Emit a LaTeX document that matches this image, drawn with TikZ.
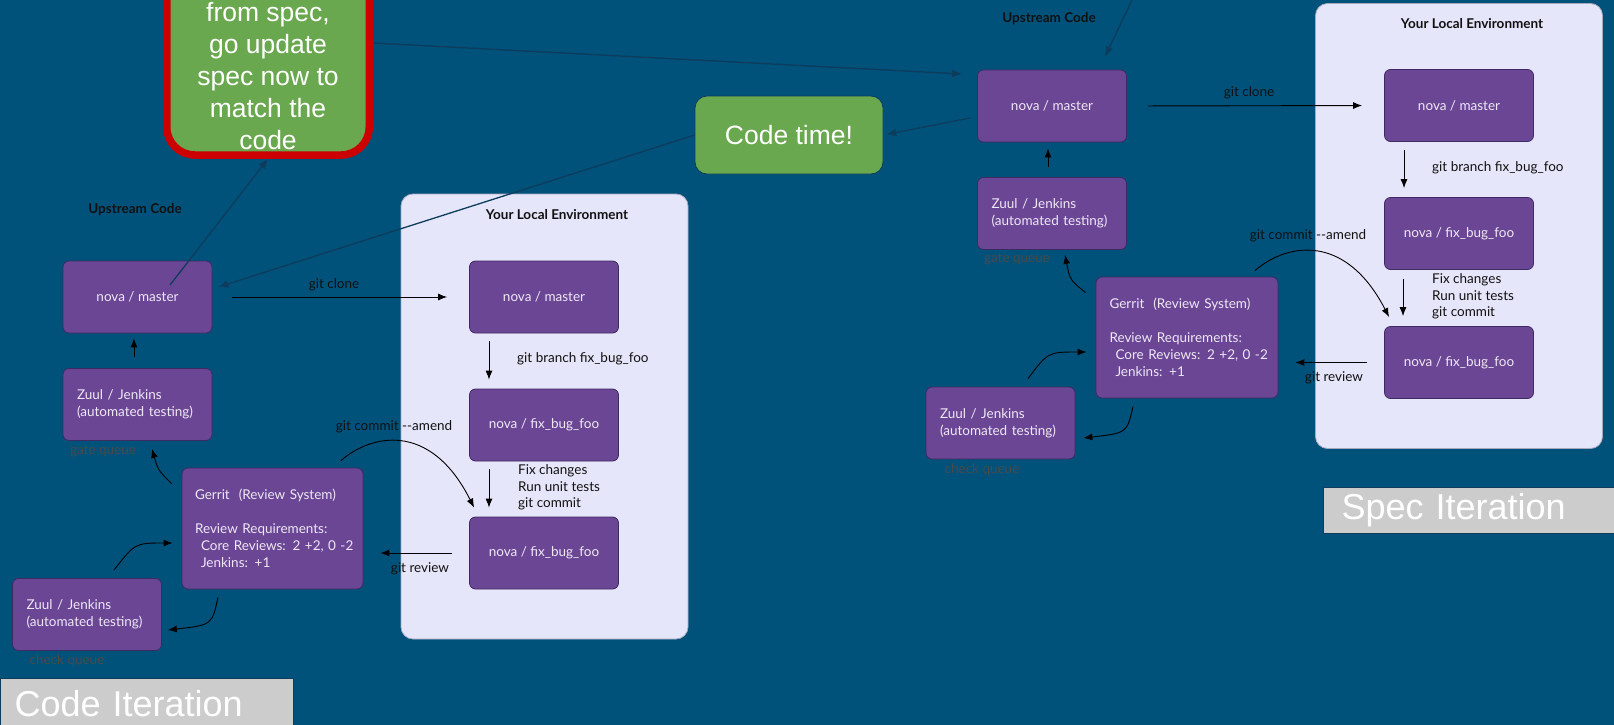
\documentclass[tikz,border=0pt]{standalone}
\usepackage{fontspec}
\setmainfont{Lato}
\newfontfamily\arialfont{Liberation Sans}
\usepackage{tikz}
\usetikzlibrary{arrows.meta}
\definecolor{bg}{HTML}{00527B}
\definecolor{plum}{HTML}{6B4694}
\definecolor{plumline}{HTML}{3E2A62}
\definecolor{plumtext}{HTML}{EEE8F6}
\definecolor{lav}{HTML}{E6E6FA}
\definecolor{lavline}{HTML}{A9A9BE}
\definecolor{navy}{HTML}{0D3C5C}
\definecolor{leaf}{HTML}{6AA84F}
\definecolor{alert}{HTML}{CC0000}
\definecolor{qgray}{HTML}{4A4A4A}
\definecolor{slate}{HTML}{CCCCCC}
\definecolor{ink}{HTML}{111111}
\tikzset{
  box/.style={rectangle, rounded corners=6pt, fill=plum, draw=plumline, line width=0.8pt,
    text=plumtext, minimum width=149pt, minimum height=72pt, inner sep=0pt,
    font=\fontsize{13.5}{17}\selectfont},
  zuul/.style={box, align=left, inner xsep=14pt, text width=121pt},
  gerrit/.style={box, align=left, inner xsep=13pt, text width=155pt, minimum width=181pt, minimum height=121pt},
  env/.style={rectangle, rounded corners=12pt, fill=lav, draw=lavline, line width=0.8pt,
    minimum width=287pt, minimum height=445pt},
  flow/.style={draw=black, line width=0.9pt, -{Latex[length=9pt,width=7pt]}},
  link/.style={draw=navy, line width=1.3pt, -{Latex[length=10pt,width=8pt]}},
  lab/.style={text=ink, font=\fontsize{13.5}{16.5}\selectfont, inner sep=0pt},
  head/.style={text=ink, font=\bfseries\fontsize{13.5}{16}\selectfont, inner sep=0pt},
  queue/.style={text=qgray, font=\fontsize{13.5}{16}\selectfont, inner sep=0pt},
  iter/.style={rectangle, fill=slate, draw=navy, line width=1.2pt, text=white, anchor=north west,
    font=\arialfont\fontsize{36}{40}\selectfont, align=left, inner ysep=0pt},
  note/.style={rectangle, fill=leaf, draw=navy, line width=0.8pt, rounded corners=12pt, text=white,
    font=\arialfont\fontsize{26.5}{32}\selectfont, minimum width=188pt, minimum height=78pt},
  alertbox/.style={rectangle, fill=leaf, draw=alert, line width=7.5pt, rounded corners=28pt,
    minimum width=202.5pt, minimum height=320pt},
}
\newcommand{\gerrittext}{Gerrit~~(Review System)\\[17pt]Review Requirements:\\
  \mbox{\hspace*{6pt}Core Reviews: 2 +2, 0 -2}\\\mbox{\hspace*{6pt}Jenkins: +1}}
\begin{document}
\begin{tikzpicture}[x=1pt,y=-1pt]
  \useasboundingbox (0,0) rectangle (1614,725);
  \clip (0,0) rectangle (1614,725);
  \fill[bg] (0,0) rectangle (1614,725);

  % local environments
  \node[env] (envL) at (544.5,416.5) {};
  \node[env] (envR) at (1459,226) {};
  \node[head] (envLt) at (557,215) {Your Local Environment};
  \node[head] (envRt) at (1472,24) {Your Local Environment};

  % code iteration
  \node[head] (upL) at (135,210) {Upstream Code};
  \node[box] (nmL) at (137.5,297) {nova / master};
  \node[zuul] (gateL) at (137.5,404.5) {Zuul / Jenkins\\(automated testing)};
  \node[queue] (gateLq) at (103,451) {gate queue};
  \node[gerrit] (gerritL) at (272.5,528.5) {\gerrittext};
  \node[zuul] (checkL) at (87,614.5) {Zuul / Jenkins\\(automated testing)};
  \node[queue] (checkLq) at (67,661) {check queue};
  \node[box] (locL) at (544,297) {nova / master};
  \node[box] (fixL1) at (544,425) {nova / fix\_bug\_foo};
  \node[box] (fixL2) at (544,553) {nova / fix\_bug\_foo};
  \node[iter, minimum width=293pt, minimum height=50pt, inner xsep=14pt, text width=265pt] (codeit) at (0,678) {Code Iteration};

  % spec iteration
  \node[head] (upR) at (1049,19) {Upstream Code};
  \node[box] (nmR) at (1052,106) {nova / master};
  \node[zuul] (gateR) at (1052,213.5) {Zuul / Jenkins\\(automated testing)};
  \node[queue] (gateRq) at (1017,259) {gate queue};
  \node[gerrit, minimum width=182pt] (gerritR) at (1187,337.5) {\gerrittext};
  \node[zuul] (checkR) at (1000.5,423) {Zuul / Jenkins\\(automated testing)};
  \node[queue] (checkRq) at (982,470) {check queue};
  \node[box] (locR) at (1459,105.5) {nova / master};
  \node[box] (fixR1) at (1459,233.5) {nova / fix\_bug\_foo};
  \node[box] (fixR2) at (1459,362.5) {nova / fix\_bug\_foo};
  \node[iter, minimum width=300pt, minimum height=46pt, inner xsep=18pt, text width=264pt] (specit) at (1323,487) {Spec Iteration};

  % callouts
  \node[alertbox] (deviate) at (268,-5) {};
  \node[text=white, font=\arialfont\fontsize{26.5}{32}\selectfont, align=center, inner sep=0pt, anchor=south] (deviatet) at (268,150) {from spec,\\go update\\spec now to\\match the\\code};
  \node[note] (codetime) at (789,135) {Code time!};
  \coordinate (fromtop) at (1151,-40);

  % left flows
  \draw[flow, shorten <=11pt, shorten >=5pt] ([xshift=-3.5pt]gateL.north) -- ([xshift=-3.5pt]nmL.south);
  \draw[flow] ([shift={(-10,16)}]gerritL.north west) .. controls (158,470) .. ([shift={(14.5,8)}]gateL.south);
  \draw[flow] ([shift={(27,-8)}]checkL.north) .. controls (135,543) .. ([shift={(-9,14.5)}]gerritL.west);
  \draw[flow] ([shift={(-54.5,8)}]gerritL.south) .. controls (212,625) .. ([shift={(6,15.5)}]checkL.east);
  \draw[flow, shorten <=20pt, shorten >=22pt] (nmL.east) -- (locL.west);
  \draw[flow, shorten <=8pt, shorten >=9pt] ([xshift=-55pt]locL.south) -- ([xshift=-55pt]fixL1.north);
  \draw[flow, shorten <=8pt, shorten >=9pt] ([xshift=-55pt]fixL1.south) -- ([xshift=-55pt]fixL2.north);
  \draw[flow, shorten <=17pt, shorten >=17pt] (fixL2.west) -- (gerritL.east |- fixL2.west);
  \draw[flow] ([shift={(68.5,-7)}]gerritL.north) .. controls (370,435) and (430,420) .. ([shift={(5,-9)}]fixL2.north west);
  \node[lab] (cloneL) at (334,285) {git clone};
  \node[lab, anchor=west] (branchL) at (517,359) {git branch fix\_bug\_foo};
  \node[lab, anchor=west, align=left] (commitL) at (518,487.5) {Fix changes\\Run unit tests\\git commit};
  \node[lab] (reviewL) at (420,569) {git review};
  \node[lab] (amendL) at (394,427) {git commit -{}-amend};

  % right flows
  \draw[flow, shorten <=10pt, shorten >=6pt] ([xshift=-4pt]gateR.north) -- ([xshift=-4pt]nmR.south);
  \draw[flow] ([shift={(-10,16)}]gerritR.north west) .. controls (1070,280) .. ([shift={(13,5)}]gateR.south);
  \draw[flow] ([shift={(27.5,-8)}]checkR.north) .. controls (1048,352) .. ([shift={(-9,14.5)}]gerritR.west);
  \draw[flow] ([shift={(-54,8)}]gerritR.south) .. controls (1127,433) .. ([shift={(8,15)}]checkR.east);
  \draw[flow, shorten <=21pt, shorten >=22pt] (nmR.east) -- (locR.west);
  \draw[flow, shorten <=8pt, shorten >=9pt] ([xshift=-55pt]locR.south) -- ([xshift=-55pt]fixR1.north);
  \draw[flow, shorten <=9pt, shorten >=10pt] ([xshift=-56pt]fixR1.south) -- ([xshift=-56pt]fixR2.north);
  \draw[flow, shorten <=17pt, shorten >=17pt] (fixR2.west) -- (gerritR.east |- fixR2.west);
  \draw[flow] ([shift={(68,-6)}]gerritR.north) .. controls (1284,245) and (1344,230) .. ([shift={(5,-9)}]fixR2.north west);
  \node[lab] (cloneR) at (1249,93) {git clone};
  \node[lab, anchor=west] (branchR) at (1432,168) {git branch fix\_bug\_foo};
  \node[lab, anchor=west, align=left] (commitR) at (1432,296.5) {Fix changes\\Run unit tests\\git commit};
  \node[lab] (reviewR) at (1334,378) {git review};
  \node[lab] (amendR) at (1308,236) {git commit -{}-amend};

  % between the two
  \draw[link] ([shift={(32.5,-12)}]nmL.center) -- (deviate.south);
  \draw[link] ([shift={(0,48)}]deviate.east) -- ([shift={(-15,-32)}]nmR.west);
  \draw[link, shorten >=3pt] ([shift={(-7,12)}]nmR.west) -- (codetime.east);
  \draw[link] (codetime.west) -- ([shift={(6,-10)}]nmL.east);
  \draw[link] (fromtop) -- ([shift={(53,-13)}]nmR.north);
\end{tikzpicture}
\end{document}
